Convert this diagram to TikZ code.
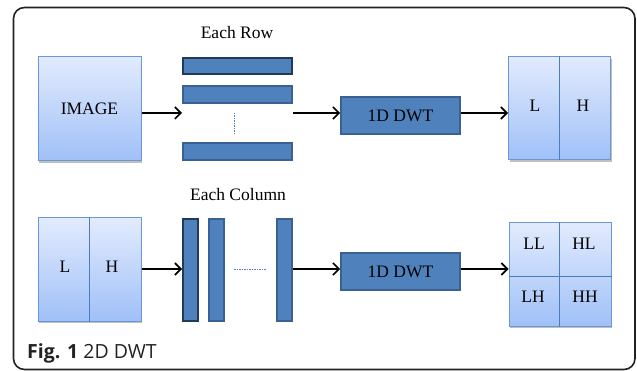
\documentclass[tikz,border=0pt]{standalone}
\usepackage{fontspec}
\setmainfont{Liberation Serif}
\newfontfamily\capfont{Open Sans}
\usetikzlibrary{arrows.meta,shadows}
\definecolor{lightTop}{HTML}{E2EBFD}
\definecolor{lightBot}{HTML}{A0C0F8}
\definecolor{lightEdge}{HTML}{6A98D6}
\definecolor{divEdge}{HTML}{4A7CC0}
\definecolor{barFill}{HTML}{4F81BD}
\definecolor{barEdge}{HTML}{3A6192}
\definecolor{barDark}{HTML}{22395A}
\definecolor{frameCol}{HTML}{222222}
\begin{document}
\begin{tikzpicture}[x=1pt,y=-1pt,
  lightbox/.style={draw=lightEdge,line width=1pt,top color=lightTop,bottom color=lightBot,
    inner sep=0pt,drop shadow={shadow xshift=1pt,shadow yshift=-2pt,opacity=0.25,fill=black}},
  bar/.style={draw=barEdge,line width=1.6pt,fill=barFill,inner sep=0pt},
  bardark/.style={bar,draw=barDark},
  dwtbox/.style={draw=barEdge,line width=1.8pt,fill=barFill,inner sep=0pt,
    minimum width=119pt,minimum height=37pt,font=\fontsize{17.5}{20}\selectfont},
  lbl/.style={font=\fontsize{17.5}{20}\selectfont,inner sep=0pt},
  arr/.style={line width=1.6pt,-{Straight Barb[length=6pt,width=12pt,line width=1.6pt]}},
  dots/.style={draw=barFill,line width=0.7pt,dash pattern=on 1.5pt off 1pt}]
\useasboundingbox (0,0) rectangle (637,371);
\draw[frameCol,line width=1.6pt,rounded corners=11pt] (13.5,7.5) rectangle (635,369.5);

% top row
\node[lightbox,minimum width=103pt,minimum height=104pt,lbl] (img) at (89.5,109) {IMAGE};
\node[lbl] (eachrow) at (237,33) {Each Row};
\node[bardark,minimum width=109.5pt,minimum height=16.5pt] (r1) at (237.5,66) {};
\node[bar,minimum width=109.5pt,minimum height=17.5pt] (r2) at (237.5,94.5) {};
\node[bar,minimum width=109.5pt,minimum height=17.5pt] (r3) at (237.5,151.5) {};
\coordinate (rdt) at (234,113);
\coordinate (rdb) at (234,135);
\draw[dots] (rdt) -- (rdb);
\coordinate (rowin) at (182,113);
\coordinate (rowout) at (293,113);
\node[dwtbox] (dwt1) at (400.5,115.5) {1D DWT};
\node[lightbox,minimum width=102pt,minimum height=103pt] (lh1) at (559.5,108.5) {};
\draw[divEdge,line width=0.8pt] (lh1.north) -- (lh1.south);
\node[lbl] (lh1l) at (535,106) {L};
\node[lbl] (lh1h) at (583,106) {H};
\draw[arr] (img.east |- rowin) -- (rowin);
\draw[arr] (rowout) -- (rowout -| dwt1.west);
\draw[arr] (dwt1.east |- rowout) -- (rowout -| lh1.west);

% bottom row
\node[lbl] (eachcol) at (238,195) {Each Column};
\node[lightbox,minimum width=103pt,minimum height=103pt] (lh0) at (89.5,269.5) {};
\draw[divEdge,line width=0.8pt] ([xshift=-0.5pt]lh0.north) -- ([xshift=-0.5pt]lh0.south);
\node[lbl] (lh0l) at (65,267) {L};
\node[lbl] (lh0h) at (112,267) {H};
\node[bardark,minimum width=15.5pt,minimum height=102.5pt] (c1) at (190.5,270) {};
\node[bar,minimum width=15.5pt,minimum height=102.5pt] (c2) at (216.5,270) {};
\node[bar,minimum width=15.5pt,minimum height=102.5pt] (c3) at (284.5,270) {};
\coordinate (cdl) at (234,269);
\coordinate (cdr) at (266,269);
\draw[dots] (cdl) -- (cdr);
\coordinate (colin) at (182,269);
\coordinate (colout) at (293,269);
\node[dwtbox] (dwt2) at (400.5,271.5) {1D DWT};
\node[lightbox,minimum width=102pt,minimum height=103pt] (ll) at (560,274.5) {};
\draw[divEdge,line width=0.8pt] ([xshift=-1pt]ll.north) -- ([xshift=-1pt]ll.south);
\draw[divEdge,line width=0.8pt] ([yshift=-1.5pt]ll.west) -- ([yshift=-1.5pt]ll.east);
\node[lbl] (tll) at (534,244) {LL};
\node[lbl] (thl) at (584,244) {HL};
\node[lbl] (tlh) at (533,297) {LH};
\node[lbl] (thh) at (585,297) {HH};
\draw[arr] (lh0.east |- colin) -- (colin);
\draw[arr] (colout) -- (colout -| dwt2.west);
\draw[arr] (dwt2.east |- colout) -- (colout -| ll.west);

% caption
\node[anchor=base west,inner sep=0pt,font=\capfont\fontsize{19.5}{23}\selectfont,text=frameCol] (cap) at (27,358) {\textbf{Fig. 1} 2D DWT};
\end{tikzpicture}
\end{document}
